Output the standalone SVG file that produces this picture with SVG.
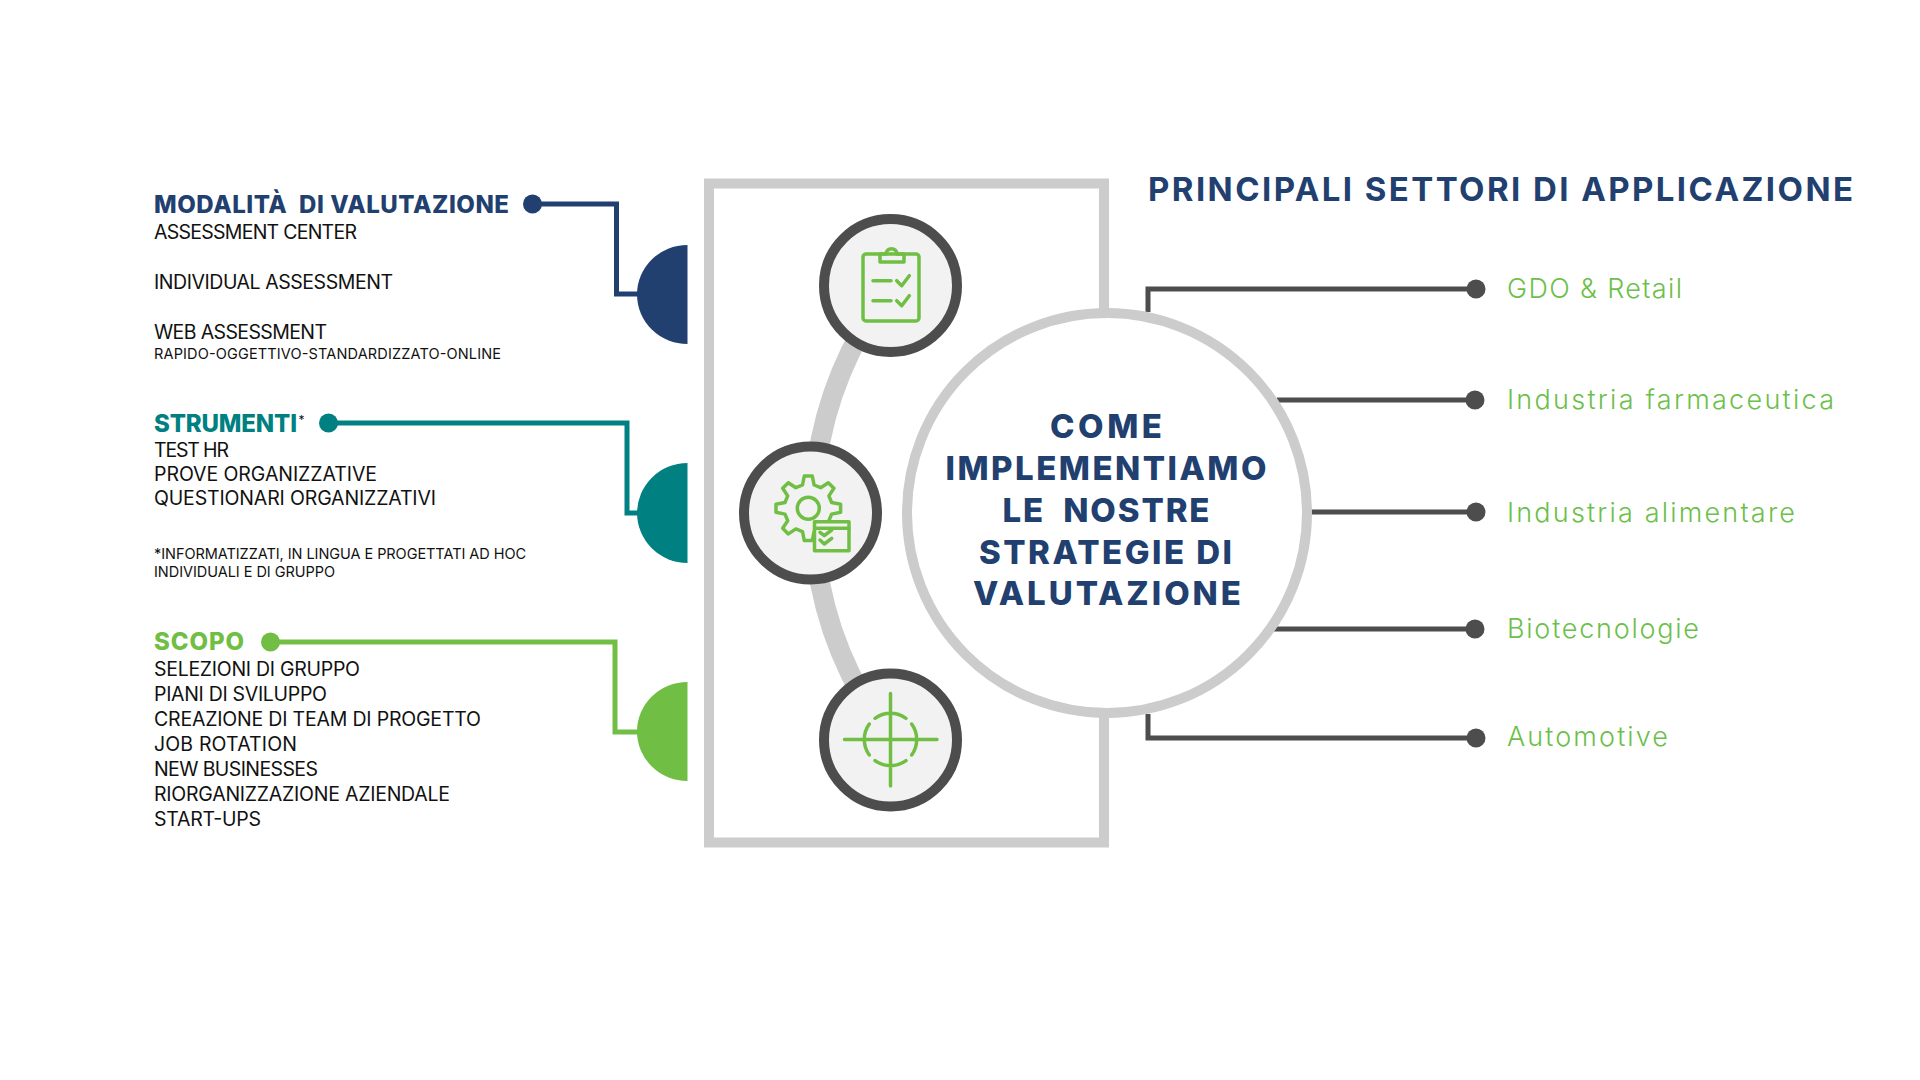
<svg xmlns="http://www.w3.org/2000/svg" width="1920" height="1080" viewBox="0 0 1920 1080">
<style>
text{font-family:"Inter","Liberation Sans",sans-serif;white-space:pre}
.h{font-size:24px;font-weight:800}
.b{font-size:19.500px;font-weight:400;fill:#111}
.s{font-size:14.500px;font-weight:400;fill:#111}
.l{font-size:27px;font-weight:300;fill:#6cbf4a}
.c{font-size:33px;font-weight:800;fill:#214070}
.t{font-size:33px;font-weight:700;fill:#214070}
.node{fill:#f2f2f2;stroke:#4d4d4d;stroke-width:10}
.ico{fill:none;stroke:#70bf44;stroke-width:3.500;stroke-linecap:round;stroke-linejoin:round}
.k{fill:none;stroke:#4d4d4d;stroke-width:5}
.navy{fill:#214070}.teal{fill:#008080}.green{fill:#70bf44}
</style>
<rect width="1920" height="1080" fill="#fff"/>
<g id="frame"><rect x="709" y="183.500" width="395" height="659" fill="#fff" stroke="#ccc" stroke-width="10"/></g>
<path id="arc" d="M862 330A370 370 0 0 0 862 696" fill="none" stroke="#ccc" stroke-width="20"/>
<g id="connectors">
<path class="k" d="M1148 312V289H1476"/><circle cx="1476" cy="289" r="9.500" fill="#4d4d4d"/>
<path class="k" d="M1277 400H1475"/><circle cx="1475" cy="400" r="9.500" fill="#4d4d4d"/>
<path class="k" d="M1311 512H1476"/><circle cx="1476" cy="512" r="9.500" fill="#4d4d4d"/>
<path class="k" d="M1274 629H1475"/><circle cx="1475" cy="629" r="9.500" fill="#4d4d4d"/>
<path class="k" d="M1148 714V738H1476"/><circle cx="1476" cy="738" r="9.500" fill="#4d4d4d"/>
<path d="M532.500 204H616.500V294H640" fill="none" stroke="#214070" stroke-width="5"/><circle class="navy" cx="532.500" cy="204" r="9.500"/>
<path d="M328.500 423H627V513H640" fill="none" stroke="#008080" stroke-width="5"/><circle class="teal" cx="328.500" cy="423" r="9.500"/>
<path d="M270.500 642H615V732H640" fill="none" stroke="#70bf44" stroke-width="5"/><circle class="green" cx="270.500" cy="642" r="9.500"/>
</g>
<g id="half-navy"><path class="navy" d="M687.500 245A50.500 49.500 0 0 0 687.500 344Z"/></g>
<g id="half-teal"><path class="teal" d="M687.500 463A50.500 50 0 0 0 687.500 563Z"/></g>
<g id="half-green"><path class="green" d="M687.500 682A50.500 49.500 0 0 0 687.500 781Z"/></g>
<g id="center"><circle cx="1107" cy="513" r="200" fill="#fff" stroke="#ccc" stroke-width="10"/>
<text class="c" x="1050" y="437.500" textLength="112">COME</text>
<text class="c" x="945.500" y="479.500" textLength="321">IMPLEMENTIAMO</text>
<text class="c" x="1002.500" y="521.500" textLength="207">LE  NOSTRE</text>
<text class="c" x="979" y="563.500" textLength="253">STRATEGIE DI</text>
<text class="c" x="973" y="605" textLength="268">VALUTAZIONE</text>
</g>
<g id="node-clipboard"><circle class="node" cx="890.500" cy="285.500" r="66.500"/>
<g class="ico"><rect x="863" y="254" width="56" height="67" rx="3"/><path d="M880 254V262H904V254H897C896 247 887 247 886 254Z"/><path d="M873 280.700H891M873 300.700H891M896.700 280.700L901.700 285.700L909.300 275.700M896.700 300.700L901.700 305.700L909.300 295.700"/></g></g>
<g id="node-gear"><circle class="node" cx="810.500" cy="513" r="66.500"/>
<g class="ico" transform="translate(808.300 508.300)"><path d="M-5.800-23.300L-4-32.300L4-32.300L5.800-23.300L12.400-20.600L20-25.600L25.600-20L20.600-12.400L23.300-5.800L32.300-4L32.300 4L23.300 5.800L20.600 12.400L25.600 20L20 25.600L12.400 20.600L5.800 23.300L4 32.300L-4 32.300L-5.800 23.300L-12.400 20.600L-20 25.600L-25.600 20L-20.600 12.400L-23.300 5.800L-32.300 4L-32.300-4L-23.300-5.800L-20.600-12.400L-25.600-20L-20-25.600L-12.400-20.600Z"/><circle r="11"/></g>
<g class="ico"><rect x="814.500" y="521.700" width="34.500" height="29" fill="#f2f2f2"/><path d="M814.500 528.300H849M820 532.300L824.300 535.700L831.700 530M820 540L824.300 544L831.700 538.300"/></g></g>
<g id="node-target"><circle class="node" cx="890.500" cy="740" r="66.500"/>
<g class="ico"><path d="M844.500 739.500H937M890.500 693.500V786M875 718.300A26.500 26.500 0 0 1 906 718.300M911.700 724A26.500 26.500 0 0 1 911.700 755M906 760.700A26.500 26.500 0 0 1 875 760.700M869.300 755A26.500 26.500 0 0 1 869.300 724"/></g></g>
<g id="list-modalita">
<text class="h navy" x="154" y="213" textLength="355">MODALITÀ  DI VALUTAZIONE</text>
<text class="b" x="154" y="239" textLength="203">ASSESSMENT CENTER</text>
<text class="b" x="154" y="289" textLength="239">INDIVIDUAL ASSESSMENT</text>
<text class="b" x="154" y="339" textLength="173">WEB ASSESSMENT</text>
<text class="s" x="154" y="359" textLength="347">RAPIDO-OGGETTIVO-STANDARDIZZATO-ONLINE</text>
</g>
<g id="list-strumenti">
<text class="h teal" x="154" y="432" textLength="143">STRUMENTI</text>
<text class="s" x="298.500" y="424" style="font-size:12px">*</text>
<text class="b" x="154" y="457" textLength="75">TEST HR</text>
<text class="b" x="154" y="481" textLength="223">PROVE ORGANIZZATIVE</text>
<text class="b" x="154" y="505" textLength="282">QUESTIONARI ORGANIZZATIVI</text>
<text class="s" x="154" y="559" textLength="372">*INFORMATIZZATI, IN LINGUA E PROGETTATI AD HOC</text>
<text class="s" x="154" y="577" textLength="181">INDIVIDUALI E DI GRUPPO</text>
</g>
<g id="list-scopo">
<text class="h green" x="154" y="650" textLength="90">SCOPO</text>
<text class="b" x="154" y="676" textLength="206">SELEZIONI DI GRUPPO</text>
<text class="b" x="154" y="701" textLength="173">PIANI DI SVILUPPO</text>
<text class="b" x="154" y="726" textLength="327">CREAZIONE DI TEAM DI PROGETTO</text>
<text class="b" x="154" y="751" textLength="143">JOB ROTATION</text>
<text class="b" x="154" y="776" textLength="164">NEW BUSINESSES</text>
<text class="b" x="154" y="801" textLength="296">RIORGANIZZAZIONE AZIENDALE</text>
<text class="b" x="154" y="826" textLength="107">START-UPS</text>
</g>
<g id="sectors">
<text class="t" x="1148" y="200.500" textLength="705">PRINCIPALI SETTORI DI APPLICAZIONE</text>
<text class="l" x="1507" y="298" textLength="175">GDO &amp; Retail</text>
<text class="l" x="1507" y="409" textLength="327">Industria farmaceutica</text>
<text class="l" x="1507" y="521.500" textLength="288">Industria alimentare</text>
<text class="l" x="1507" y="638" textLength="192">Biotecnologie</text>
<text class="l" x="1507" y="746" textLength="161">Automotive</text>
</g>
</svg>
